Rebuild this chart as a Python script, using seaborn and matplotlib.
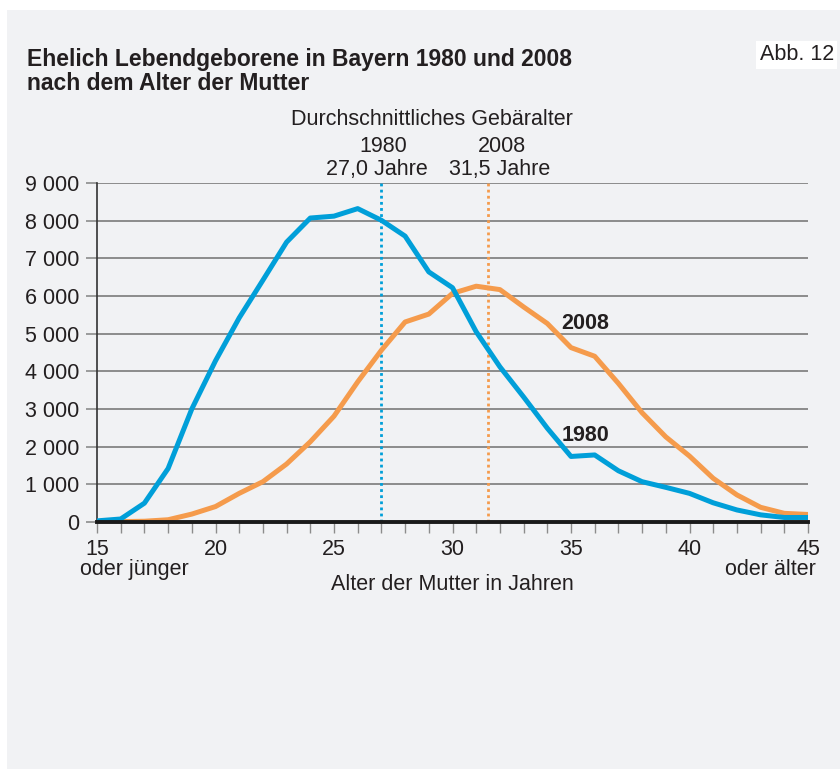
import numpy as np
import pandas as pd
import seaborn as sns
import matplotlib.pyplot as plt
from matplotlib.patches import Rectangle

# Alter der Mutter (15 = "oder jünger", 45 = "oder älter")
alter = list(range(15, 46))
geb_1980 = [30, 80, 500, 1420, 3000, 4280, 5420, 6420, 7430, 8070, 8120, 8320, 8010,
            7590, 6640, 6220, 5050, 4120, 3320, 2490, 1740, 1780, 1360, 1070, 920,
            760, 510, 320, 190, 120, 120]
geb_2008 = [10, 10, 20, 60, 210, 410, 760, 1070, 1540, 2130, 2810, 3720, 4560,
            5310, 5520, 6070, 6260, 6170, 5710, 5270, 4630, 4400, 3680, 2900, 2260,
            1750, 1160, 720, 390, 230, 200]
mittel_1980 = 27.0
mittel_2008 = 31.5
yticks = list(range(0, 9001, 1000))
xticks_major = [15, 20, 25, 30, 35, 40, 45]

blau = "#009fd9"
orange = "#f59b4c"
bg = "#f1f2f4"
txt = "#231f20"
fs = 15.5

sns.set_theme(style="white")
plt.rcParams["font.family"] = ["Liberation Sans", "DejaVu Sans"]

df = pd.DataFrame({"Alter": alter, "1980": geb_1980, "2008": geb_2008})
df = df.melt(id_vars="Alter", var_name="Jahr", value_name="Geborene")

W, H = 840, 769
fig = plt.figure(figsize=(W / 100, H / 100), dpi=100)
fig.patch.set_facecolor("white")
fig.patches.append(Rectangle((7 / W, 0), 1, 1 - 10 / H, transform=fig.transFigure,
                             facecolor=bg, edgecolor="none", zorder=-5))

ax = fig.add_axes([97 / W, 1 - 522 / H, (808 - 97) / W, (522 - 183) / H])
ax.set_facecolor(bg)

for y in yticks[1:]:
    ax.axhline(y, color="#8c8c8c", lw=1.4, zorder=1)

ax.axvline(mittel_1980, color=blau, lw=2, ls=(0, (1, 1.2)), zorder=2)
ax.axvline(mittel_2008, color=orange, lw=2, ls=(0, (1, 1.2)), zorder=2)

sns.lineplot(data=df, x="Alter", y="Geborene", hue="Jahr", hue_order=["2008", "1980"],
             palette={"1980": blau, "2008": orange}, lw=3.6, legend=False, ax=ax, zorder=3)

ax.set_xlim(15, 45)
ax.set_ylim(0, 9000)
ax.set_yticks(yticks)
ax.set_yticklabels([f"{v:,}".replace(",", " ") for v in yticks])
ax.set_xticks(alter, minor=True)
ax.set_xticks(xticks_major)
ax.set_xticklabels([str(v) for v in xticks_major])
ax.tick_params(axis="y", length=8, width=1.2, color="#8c8c8c", labelsize=fs,
               labelcolor=txt, pad=5, left=True)
ax.tick_params(axis="x", which="both", length=8, width=1, color="#8c8c8c",
               direction="out", bottom=True, labelsize=fs, labelcolor=txt, pad=4)
for s in ["top", "right"]:
    ax.spines[s].set_visible(False)
ax.spines["left"].set_color("#333333")
ax.spines["left"].set_linewidth(1.2)
ax.spines["bottom"].set_color("#1a1a1a")
ax.spines["bottom"].set_linewidth(2.8)
ax.spines["bottom"].set_zorder(4)
ax.set_xlabel("")
ax.set_ylabel("")


def fy(py):
    return 1 - py / H


# x-axis labels
fig.text(80 / W, fy(575), "oder jünger", fontsize=fs, ha="left", va="baseline", color=txt)
fig.text(816 / W, fy(575), "oder älter", fontsize=fs, ha="right", va="baseline", color=txt)
fig.text(452 / W, fy(590), "Alter der Mutter in Jahren", fontsize=fs, ha="center",
         va="baseline", color=txt)

# Durchschnittsalter
fig.text(432 / W, fy(125), "Durchschnittliches Gebäralter", fontsize=fs, ha="center",
         va="baseline", color=txt)
fig.text(383 / W, fy(152), "1980", fontsize=fs, ha="center", va="baseline", color=txt)
fig.text(502 / W, fy(152), "2008", fontsize=fs, ha="center", va="baseline", color=txt)
fig.text(377 / W, fy(175), "27,0 Jahre", fontsize=fs, ha="center", va="baseline", color=txt)
fig.text(500 / W, fy(175), "31,5 Jahre", fontsize=fs, ha="center", va="baseline", color=txt)

# Serienbeschriftung
ax.text(35.6, 5280, "2008", fontsize=fs, fontweight="bold", ha="center", va="center",
        color=txt, zorder=5)
ax.text(35.6, 2290, "1980", fontsize=fs, fontweight="bold", ha="center", va="center",
        color=txt, zorder=5)

# Titel
fig.text(27 / W, fy(66), "Ehelich Lebendgeborene in Bayern 1980 und 2008",
         fontsize=16.5, fontweight="bold", ha="left", va="baseline", color=txt)
fig.text(27 / W, fy(90), "nach dem Alter der Mutter",
         fontsize=16.5, fontweight="bold", ha="left", va="baseline", color=txt)
fig.text(834 / W, fy(55), "Abb. 12", fontsize=fs, ha="right", va="center", color=txt,
         bbox=dict(facecolor="white", edgecolor="none", pad=2.5))

fig.savefig("out.png", dpi=100, facecolor=fig.get_facecolor())
